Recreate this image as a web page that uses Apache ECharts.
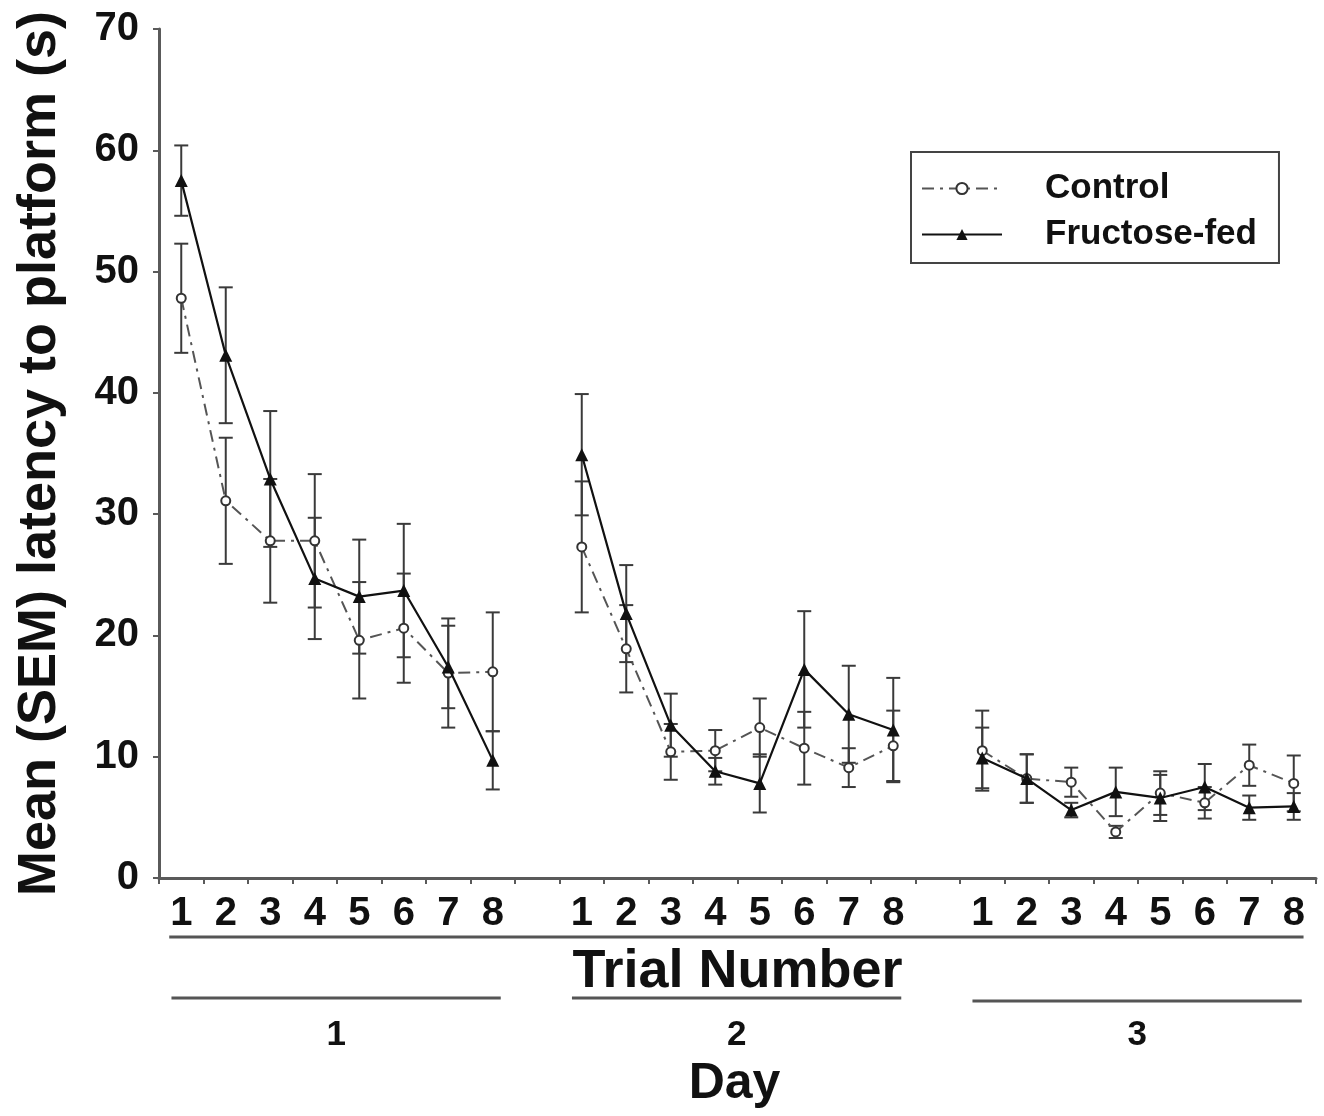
<!DOCTYPE html>
<html>
<head>
<meta charset="utf-8">
<script src="https://cdn.jsdelivr.net/npm/echarts@6/dist/echarts.min.js"></script>
<style>
html,body{margin:0;padding:0;background:#fff;}
#chart{width:1324px;height:1116px;}
</style>
</head>
<body>
<div id="chart"></div>
<script>
// ---- data ----
const trials = ['1','2','3','4','5','6','7','8'];
const days = ['1','2','3'];
const controlDay1 = [47.8, 31.1, 27.8, 27.8, 19.6, 20.6, 16.9, 17.0];
const controlDay2 = [27.3, 18.9, 10.4, 10.5, 12.4, 10.7, 9.1, 10.9];
const controlDay3 = [10.5, 8.2, 7.9, 3.8, 7.0, 6.2, 9.3, 7.8];
const controlSemDay1 = [4.5, 5.2, 5.1, 5.5, 4.8, 4.5, 4.5, 4.9];
const controlSemDay2 = [5.4, 3.6, 2.3, 1.7, 2.4, 3.0, 1.6, 2.9];
const controlSemDay3 = [3.3, 2.0, 1.2, 0.5, 1.8, 1.3, 1.7, 2.3];
const fructoseDay1 = [57.5, 43.1, 32.9, 24.7, 23.2, 23.7, 17.4, 9.7];
const fructoseDay2 = [34.9, 21.8, 12.6, 8.8, 7.8, 17.2, 13.5, 12.2];
const fructoseDay3 = [9.9, 8.2, 5.6, 7.1, 6.6, 7.5, 5.8, 5.9];
const fructoseSemDay1 = [2.9, 5.6, 5.6, 5.0, 4.7, 5.5, 3.4, 2.4];
const fructoseSemDay2 = [5.0, 4.0, 2.6, 1.1, 2.4, 4.8, 4.0, 4.3];
const fructoseSemDay3 = [2.5, 2.0, 0.6, 2.0, 1.9, 1.9, 1.0, 1.1];
const yTicks = [0, 10, 20, 30, 40, 50, 60, 70];

// ---- build category axis with one blank slot between days ----
const cats = [...trials, '', ...trials, '', ...trials];
function joinDays(a, b, c) { return [...a, null, ...b, null, ...c]; }
const controlMean = joinDays(controlDay1, controlDay2, controlDay3);
const controlSem = joinDays(controlSemDay1, controlSemDay2, controlSemDay3);
const fructoseMean = joinDays(fructoseDay1, fructoseDay2, fructoseDay3);
const fructoseSem = joinDays(fructoseSemDay1, fructoseSemDay2, fructoseSemDay3);
function errData(mean, sem) {
  const out = [];
  mean.forEach((m, i) => { if (m != null) out.push([i, m - sem[i], m + sem[i]]); });
  return out;
}

const FONT = "'Liberation Sans', Arial, Helvetica, sans-serif";
const AXIS_COLOR = '#5a5a5a';

function renderErr(params, api) {
  const x = api.value(0);
  const lo = api.coord([x, api.value(1)]);
  const hi = api.coord([x, api.value(2)]);
  const hw = 7;
  const st = { stroke: '#3a3a3a', lineWidth: 2 };
  return {
    type: 'group',
    children: [
      { type: 'line', shape: { x1: lo[0], y1: lo[1], x2: hi[0], y2: hi[1] }, style: st },
      { type: 'line', shape: { x1: hi[0] - hw, y1: hi[1], x2: hi[0] + hw, y2: hi[1] }, style: st },
      { type: 'line', shape: { x1: lo[0] - hw, y1: lo[1], x2: lo[0] + hw, y2: lo[1] }, style: st }
    ]
  };
}

const chart = echarts.init(document.getElementById('chart'), null, { renderer: 'canvas' });
chart.setOption({
  animation: false,
  backgroundColor: '#fff',
  textStyle: { fontFamily: FONT },
  grid: { left: 159, right: 8, top: 29, bottom: 238, containLabel: false },
  legend: {
    data: ['Control', 'Fructose-fed'],
    orient: 'vertical',
    left: 911,
    top: 152,
    padding: [19, 22, 11, 10],
    itemGap: 11,
    itemWidth: 80,
    itemHeight: 14,
    borderColor: '#444',
    borderWidth: 2,
    borderRadius: 0,
    textStyle: { fontSize: 35, fontWeight: 'bold', color: '#111', fontFamily: FONT, padding: [0, 0, 0, 38] }
  },
  xAxis: {
    type: 'category',
    data: cats,
    boundaryGap: true,
    axisLine: { lineStyle: { color: AXIS_COLOR, width: 3 } },
    axisTick: { show: true, interval: 0, length: 6, lineStyle: { color: AXIS_COLOR, width: 2 } },
    axisLabel: { interval: 0, fontSize: 40, fontWeight: 'bold', color: '#111', margin: 16, fontFamily: FONT },
    splitLine: { show: false }
  },
  yAxis: {
    type: 'value',
    min: yTicks[0],
    max: yTicks[yTicks.length - 1],
    interval: 10,
    name: 'Mean (SEM) latency to platform (s)',
    nameLocation: 'middle',
    nameRotate: 90,
    nameGap: 92,
    nameTextStyle: { fontSize: 54, fontWeight: 'bold', color: '#111', fontFamily: FONT },
    axisLine: { show: true, lineStyle: { color: AXIS_COLOR, width: 3 } },
    axisTick: { show: true, length: 6, lineStyle: { color: AXIS_COLOR, width: 2 } },
    axisLabel: { fontSize: 40, fontWeight: 'bold', color: '#111', margin: 20, fontFamily: FONT },
    splitLine: { show: false }
  },
  series: [
    {
      name: 'Control SEM', type: 'custom', renderItem: renderErr,
      data: errData(controlMean, controlSem), encode: { x: 0, y: [1, 2] }, z: 1, silent: true
    },
    {
      name: 'Fructose SEM', type: 'custom', renderItem: renderErr,
      data: errData(fructoseMean, fructoseSem), encode: { x: 0, y: [1, 2] }, z: 1, silent: true
    },
    {
      name: 'Control', type: 'line', data: controlMean, connectNulls: false,
      symbol: 'emptyCircle', symbolSize: 9, z: 3,
      lineStyle: { color: '#555', width: 2, type: [12, 6, 3, 6] },
      itemStyle: { color: '#333', borderColor: '#333', borderWidth: 2 }
    },
    {
      name: 'Fructose-fed', type: 'line', data: fructoseMean, connectNulls: false,
      symbol: 'triangle', symbolSize: 13, z: 4,
      lineStyle: { color: '#111', width: 2.2, type: 'solid' },
      itemStyle: { color: '#111' }
    }
  ]
});

// ---- decorations below the axis, positioned through the axis scale ----
function px(idx) { return chart.convertToPixel({ xAxisIndex: 0 }, idx); }
const gridBottom = chart.convertToPixel({ yAxisIndex: 0 }, 0);
const step = px(1) - px(0);
const lineStyle = { stroke: '#555', lineWidth: 3 };
const graphics = [];
// underline below trial numbers
graphics.push({ type: 'line', shape: { x1: px(0) - 0.27 * step, y1: gridBottom + 59, x2: px(cats.length - 1) + 0.22 * step, y2: gridBottom + 59 }, style: lineStyle });
const dayStarts = [0, 9, 18];
const dayY = [gridBottom + 120, gridBottom + 120, gridBottom + 123];
dayStarts.forEach((s, d) => {
  const x1 = px(s) - 0.22 * step, x2 = px(s + 7) + 0.18 * step;
  graphics.push({ type: 'line', shape: { x1: x1, y1: dayY[d], x2: x2, y2: dayY[d] }, style: lineStyle });
  graphics.push({ type: 'text', x: (x1 + x2) / 2, y: gridBottom + 157,
    style: { text: days[d], font: 'bold 35px ' + FONT, fill: '#111', textAlign: 'center', textVerticalAlign: 'middle' } });
});
const midX = (px(0) - 0.5 * step + px(cats.length - 1) + 0.5 * step) / 2;
graphics.push({ type: 'text', x: midX, y: gridBottom + 94,
  style: { text: 'Trial Number', font: 'bold 54px ' + FONT, fill: '#111', textAlign: 'center', textVerticalAlign: 'middle' } });
graphics.push({ type: 'text', x: midX - 3, y: gridBottom + 206,
  style: { text: 'Day', font: 'bold 50px ' + FONT, fill: '#111', textAlign: 'center', textVerticalAlign: 'middle' } });
chart.setOption({ graphic: graphics });
</script>
</body>
</html>
